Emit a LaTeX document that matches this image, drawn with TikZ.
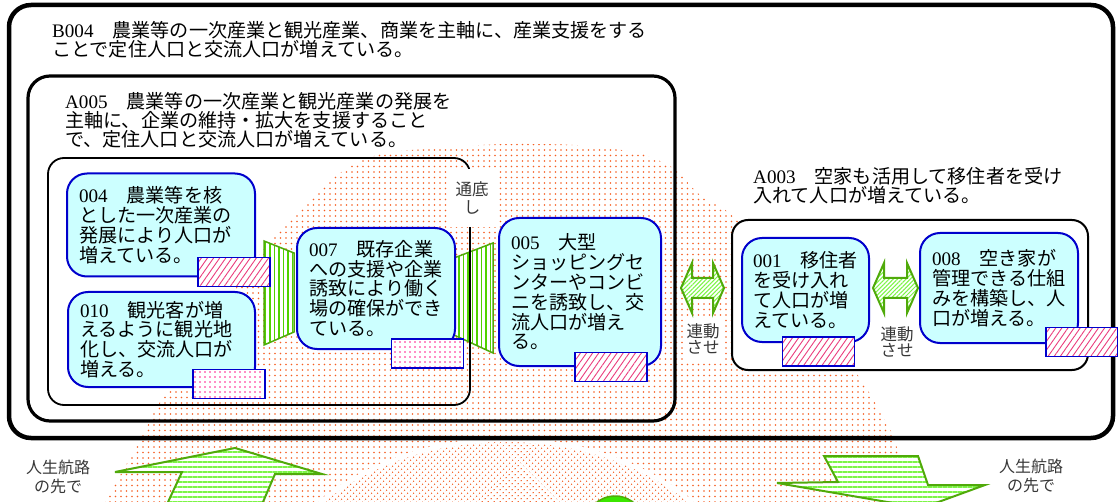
\documentclass[tikz,border=0pt]{standalone}
\usepackage{fontspec}
\setmainfont{Noto Sans CJK JP}
\newfontfamily\latinfont{Liberation Serif}
\usetikzlibrary{patterns.meta,calc}

\pgfdeclarelayer{dots}
\pgfdeclarelayer{links}
\pgfsetlayers{dots,links,main}

\definecolor{cardcyan}{RGB}{204,255,255}
\definecolor{cardblue}{RGB}{0,0,204}
\definecolor{hatchpink}{RGB}{235,60,125}
\definecolor{dotpink}{RGB}{255,30,140}
\definecolor{dotorange}{RGB}{245,95,35}
\definecolor{funnelgreen}{RGB}{80,210,0}
\definecolor{edgegreen}{RGB}{80,170,10}
\definecolor{arrowgreen}{RGB}{125,245,70}
\definecolor{ballgreen}{RGB}{60,230,0}
\definecolor{notegray}{RGB}{55,55,55}

\newcommand\idno[1]{{\latinfont #1}}
\newcommand\cardfont{\fontsize{19.1}{19.8}\selectfont}
\newcommand\headfont{\fontsize{19.1}{19}\selectfont}
\newcommand\notefont{\fontsize{16.5}{15.5}\selectfont}
\newcommand\lifefont{\fontsize{16}{19}\selectfont}
\newcommand\twoway[2]{\draw[twoway] #1 -- ++(11,-25) -- ++(0,15) -- ++(#2,0) -- ++(0,-15) -- ++(11,25)
  -- ++(-11,25) -- ++(0,-15) -- ++(-#2,0) -- ++(0,15) -- cycle;}

\tikzset{
  panel/.style={draw=black, rounded corners=22pt},
  card/.style={draw=cardblue, line width=2pt, fill=cardcyan, rounded corners=20pt,
    align=left, inner xsep=12pt, inner ysep=0pt, font=\cardfont},
  head/.style={anchor=west, align=left, inner sep=0pt, font=\headfont},
  hatchbox/.style={draw=cardblue, line width=1.8pt, preaction={fill=white},
    pattern={Lines[angle=55,distance=5pt,line width=0.9pt]}, pattern color=hatchpink,
    minimum width=72pt, minimum height=29pt, inner sep=0pt},
  dotbox/.style={hatchbox, pattern={Dots[distance=5pt,radius=0.9pt]}, pattern color=dotpink},
  note/.style={fill=white, text=notegray, align=center, inner sep=0pt, font=\notefont},
  funnel/.style={draw=edgegreen, line width=1.5pt, preaction={fill=white},
    pattern={Lines[angle=90,distance=4.5pt,line width=1.1pt]}, pattern color=funnelgreen},
  twoway/.style={draw=edgegreen, line width=2pt, preaction={fill=white},
    pattern={Lines[angle=45,distance=3pt,line width=1pt]}, pattern color=arrowgreen},
  bigarrow/.style={draw=edgegreen, line width=2pt, preaction={fill=white},
    pattern={Lines[angle=0,distance=5pt,line width=2.2pt]}, pattern color=arrowgreen}
}

\begin{document}
\begin{tikzpicture}[x=1pt, y=-1pt]
\useasboundingbox (0,0) rectangle (1118,502);

\begin{pgfonlayer}{dots}
  \fill[pattern={Dots[distance=5.5pt,radius=0.95pt]}, pattern color=dotorange]
    plot[smooth, tension=0.7] coordinates {(105,502) (140,440) (160,402) (192,355) (228,300)
      (263,250) (305,205) (363,160) (440,148) (530,144) (615,149) (668,165) (700,195)
      (735,218) (795,285) (845,355) (878,408) (897,448) (905,502)}
    -- (905,530) -- (105,530) -- cycle;
  \draw[white, line width=4pt, preaction={fill=white},
    pattern={Dots[distance=4pt,radius=0.8pt,angle=45]}, pattern color=dotorange]
    (506,640) ellipse [x radius=256, y radius=200];
\end{pgfonlayer}

\draw[panel, line width=4.5pt] (9,5) rectangle (1113,438);
\draw[panel, line width=3.2pt] (28,76) rectangle (675,421);
\draw[panel, line width=1.8pt, rounded corners=16pt] (48,158) rectangle (470,405);
\draw[panel, line width=2pt, rounded corners=16pt, fill=white] (732,220) rectangle (1088,370);

\node[head] (B004) at (52,40) {\idno{B004}　農業等の一次産業と観光産業、商業を主軸に、産業支援をする\\ことで定住人口と交流人口が増えている。};
\node[head] (A005) at (65,120) {\idno{A005}　農業等の一次産業と観光産業の発展を\\主軸に、企業の維持・拡大を支援すること\\で、定住人口と交流人口が増えている。};
\node[head] (A003) at (753,185.5) {\idno{A003}　空家も活用して移住者を受け\\入れて人口が増えている。};

\node[card, minimum width=188pt, minimum height=103pt, text width=164pt] (n004) at (161,225)
  {\idno{004}　農業等を核\\とした一次産業の\\発展により人口が\\増えている。};
\node[card, minimum width=187pt, minimum height=95pt, text width=163pt] (n010) at (161.5,339.5)
  {\idno{010}　観光客が増\\えるように観光地\\化し、交流人口が\\増える。};
\node[card, minimum width=158pt, minimum height=121pt, text width=134pt] (n007) at (376,288.5)
  {\idno{007}　既存企業\\への支援や企業\\誘致により働く\\場の確保ができ\\ている。};
\node[card, minimum width=162pt, minimum height=148pt, text width=138pt] (n005) at (580,292)
  {\idno{005}　大型\\ショッピングセ\\ンターやコンビ\\ニを誘致し、交\\流人口が増え\\る。};
\node[card, minimum width=127pt, minimum height=104pt, text width=105pt, inner xsep=11pt] (n001) at (805.5,290)
  {\idno{001}　移住者\\を受け入れ\\て人口が増\\えている。};
\node[card, minimum width=158pt, minimum height=110pt, text width=134pt] (n008) at (999,288)
  {\idno{008}　空き家が\\管理できる仕組\\みを構築し、人\\口が増える。};

\node[hatchbox] (t004) at (234,272) {};
\node[dotbox] (t010) at (229,384) {};
\node[dotbox] (t007) at (427.5,353.5) {};
\node[hatchbox] (t005) at (611,367) {};
\node[hatchbox] (t001) at (818.5,351.5) {};
\node[hatchbox] (t008) at (1082,342) {};

\begin{pgfonlayer}{links}
  \begin{scope}[shift={(n007.west)}]
    \draw[funnel] (-32,-47.5) -- (-2,-35.5) -- (-2,43.5) -- (-32,56.5) -- cycle;
  \end{scope}
  \begin{scope}[shift={(n005.west)}]
    \draw[funnel] (-44,-34) -- (-5,-49) -- (-5,61) -- (-44,43) -- cycle;
  \end{scope}
\end{pgfonlayer}

\node[note, minimum width=50pt, minimum height=58pt, font=\fontsize{16.5}{18}\selectfont] (deep) at (472,198) {通底\\し};

\twoway{($(n005.east)+(19,-4)$)}{21}
\twoway{($(n001.east)+(3,-2)$)}{23}
\node[note, minimum width=40pt, minimum height=42pt] (sync1) at (703,339) {連動\\させ};
\node[note, minimum width=40pt, minimum height=42pt] (sync2) at (897,342) {連動\\させ};

\draw[bigarrow] (235,448) -- (322,474) -- (275,474) -- (251,530) -- (155,530) -- (182,472) -- (115,472) -- cycle;
\draw[bigarrow] (824,456) -- (918,456) -- (928,485) -- (985,485) -- (922,508) -- (777,483) -- (838,482) -- cycle;
\node[note, fill=none, font=\lifefont] (life1) at (58,477) {人生航路\\の先で};
\node[note, fill=none, font=\lifefont] (life2) at (1031,476) {人生航路\\の先で};

\draw[draw=edgegreen, line width=1.5pt, fill=ballgreen] (615,526) circle [radius=30];
\end{tikzpicture}
\end{document}
